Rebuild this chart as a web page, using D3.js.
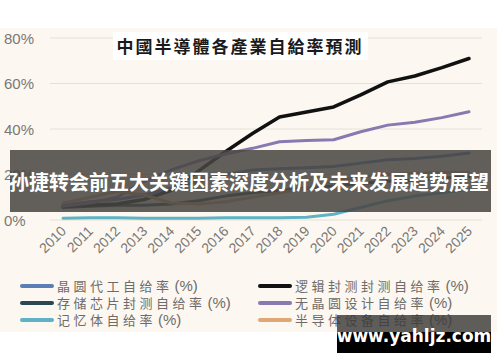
<!DOCTYPE html>
<html lang="zh">
<head>
	<meta charset="UTF-8">
	<title>中國半導體各產業自給率預測</title>
	<style>
		html, body {width: 100%; height: 100%; padding: 0; margin: 0; background: #fff;}
		svg {display: block;}
	</style>
	<script src="https://d3js.org/d3.v7.min.js"></script>
</head>
<body>
<script>
	// data
	var years = [2010, 2011, 2012, 2013, 2014, 2015, 2016, 2017, 2018, 2019, 2020, 2021, 2022, 2023, 2024, 2025];
	var yTicks = [0, 20, 40, 60, 80];
	var foundry = [6.5, 8, 9, 11, 14, 17, 20, 22, 22.5, 23, 23.5, 25, 26.5, 27, 28, 29.5];
	var memPack = [5.5, 6, 6.5, 6.5, 7, 8.5, 10.5, 12, 13, 14, 15, 16, 17, 17.5, 18.5, 19];
	var memory = [0.8, 1, 1, 0.8, 0.8, 0.8, 1, 1, 1, 1.2, 2.5, 5.5, 8.5, 10.5, 12, 13.5];
	var logicPack = [6, 6.5, 7, 9, 13, 21.5, 30, 38, 45.3, 47.5, 49.7, 55, 60.7, 63.3, 67, 71];
	var fabless = [6, 7.5, 10, 17, 22, 26, 29, 31.5, 34.4, 34.9, 35.3, 38.8, 41.7, 43, 45, 47.6];
	var equipment = [7.5, 10, 12.5, 11, 7.5, 7, 8, 10, 12, 14, 17, 19, 20, 20.5, 21, 21];

	var series = [
		{name: '晶圆代工自给率', values: foundry, color: '#5b7fb4'},
		{name: '存储芯片封测自给率', values: memPack, color: '#2b4753'},
		{name: '记忆体自给率', values: memory, color: '#5fb2c4'},
		{name: '逻辑封测封测自给率', values: logicPack, color: '#111'},
		{name: '无晶圆设计自给率', values: fabless, color: '#8a78b0'},
		{name: '半导体设备自给率', values: equipment, color: '#e0a673'}
	];

	var width = 500, height = 362;
	var svg = d3.select('body').append('svg')
		.attr('width', width)
		.attr('height', height);

	// cream chart area
	svg.append('rect').attr('x', 0).attr('y', 28).attr('width', 497).attr('height', 304).attr('fill', '#fcf8f1');

	var x = d3.scalePoint().domain(years).range([63, 469]);
	var y = d3.scaleLinear().domain([0, 80]).range([220, 38]);

	// grid + y labels
	svg.append('g').selectAll('line')
		.data(yTicks)
		.enter().append('line')
		.attr('x1', 50).attr('x2', 482)
		.attr('y1', function (d) { return y(d); })
		.attr('y2', function (d) { return y(d); })
		.attr('stroke', '#e6e0d6').attr('stroke-width', 1);

	svg.append('g').selectAll('text')
		.data(yTicks)
		.enter().append('text')
		.attr('x', 4)
		.attr('y', function (d) { return y(d) + 5.5; })
		.attr('font-family', 'Liberation Sans, Arial, sans-serif')
		.attr('font-size', 15)
		.attr('fill', '#7a7775')
		.text(function (d) { return d + '%'; });

	// x tick labels, rotated
	svg.append('g').selectAll('text')
		.data(years)
		.enter().append('text')
		.attr('transform', function (d) { return 'translate(' + (x(d) + 4) + ',232) rotate(-45)'; })
		.attr('text-anchor', 'end')
		.attr('font-family', 'Liberation Sans, Arial, sans-serif')
		.attr('font-size', 14)
		.attr('fill', '#7a7775')
		.text(function (d) { return d; });

	// title box
	svg.append('rect').attr('x', 113).attr('y', 32).attr('width', 255).attr('height', 28).attr('fill', '#fff');
	svg.append('text')
		.attr('x', 240).attr('y', 53)
		.attr('text-anchor', 'middle')
		.attr('font-family', "'Noto Sans CJK TC', 'Noto Sans CJK SC', sans-serif")
		.attr('font-weight', 'bold')
		.attr('font-size', 17)
		.attr('letter-spacing', 2)
		.attr('fill', '#1a1a1a')
		.text('中國半導體各產業自給率預測');

	// lines
	var line = d3.line()
		.x(function (d, i) { return x(years[i]); })
		.y(function (d) { return y(d); })
		.curve(d3.curveLinear);

	svg.append('g').selectAll('path')
		.data(series)
		.enter().append('path')
		.attr('d', function (d) { return line(d.values); })
		.attr('fill', 'none')
		.attr('stroke', function (d) { return d.color; })
		.attr('stroke-width', function (d) { return d.color === '#111' ? 3.5 : 3; })
		.attr('stroke-linejoin', 'round')
		.attr('stroke-linecap', 'round');

	// legend, two columns
	var legend = svg.append('g').selectAll('g')
		.data(series)
		.enter().append('g')
		.attr('transform', function (d, i) {
			var col = Math.floor(i / 3), row = i % 3;
			return 'translate(' + (col ? 260 : 22) + ',' + (286 + row * 17) + ')';
		});
	legend.append('line')
		.attr('x1', 0).attr('x2', 30)
		.attr('stroke', function (d) { return d.color; })
		.attr('stroke-width', 4)
		.attr('stroke-linecap', 'round');
	var lt = legend.append('text')
		.attr('x', 35).attr('y', 5)
		.attr('fill', '#6e6b69');
	lt.append('tspan')
		.attr('font-family', "'Noto Sans CJK SC', sans-serif")
		.attr('font-size', 13)
		.attr('letter-spacing', 3.5)
		.text(function (d) { return d.name; });
	lt.append('tspan')
		.attr('dx', 2)
		.attr('font-family', 'Liberation Sans, Arial, sans-serif')
		.attr('font-size', 15)
		.text('(%)');

	// overlay banner
	svg.append('rect').attr('x', 10).attr('y', 150).attr('width', 481).attr('height', 62)
		.attr('fill', 'rgba(72,70,66,0.86)');
	svg.append('text')
		.attr('x', 249).attr('y', 190)
		.attr('text-anchor', 'middle')
		.attr('font-family', "'Noto Sans CJK SC', sans-serif")
		.attr('font-weight', 'bold')
		.attr('font-size', 20)
		.attr('fill', '#fff')
		.text('孙捷转会前五大关键因素深度分析及未来发展趋势展望');

	// watermark
	svg.append('rect').attr('x', 337).attr('y', 315).attr('width', 154).attr('height', 17).attr('fill', 'rgba(60,58,56,0.82)');
	svg.append('rect').attr('x', 337).attr('y', 332).attr('width', 154).attr('height', 21).attr('fill', '#000');
	svg.append('text')
		.attr('x', 414).attr('y', 342)
		.attr('text-anchor', 'middle')
		.attr('font-family', 'DejaVu Sans, sans-serif')
		.attr('font-weight', 'bold')
		.attr('font-size', 17)
		.attr('fill', '#fff')
		.text('www.yahljz.com');
</script>
</body>
</html>
